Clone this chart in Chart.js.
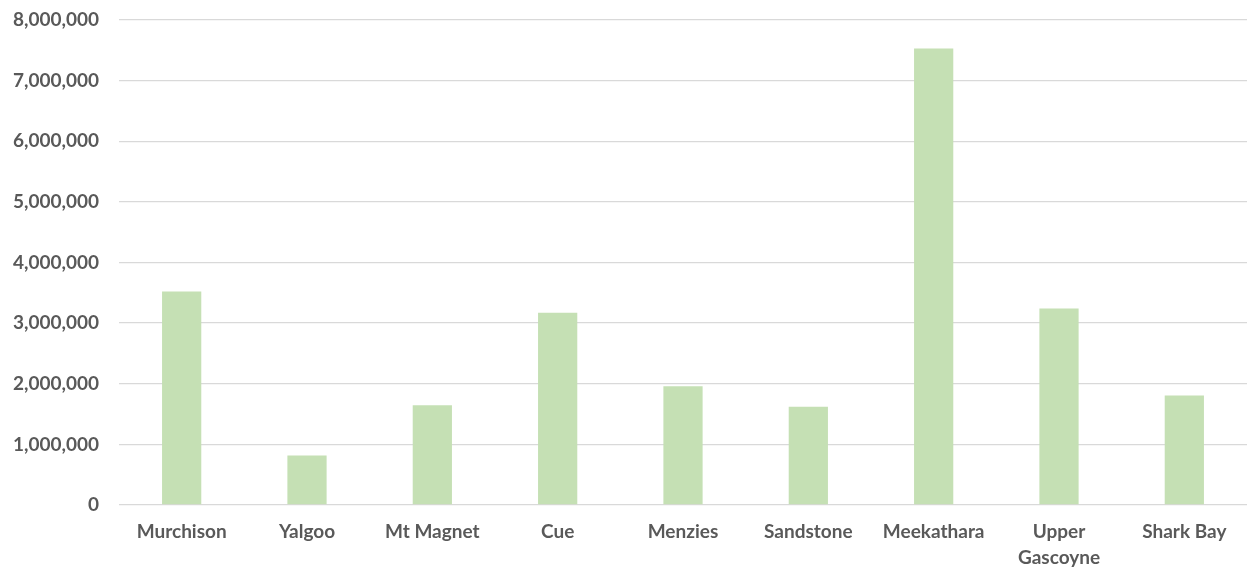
<!DOCTYPE html>
<html>
<head>
<meta charset="utf-8">
<script src="https://cdn.jsdelivr.net/npm/chart.js@4/dist/chart.umd.min.js"></script>
<style>
  html, body { margin: 0; padding: 0; background: #ffffff; }
  #wrap { width: 1258px; height: 569px; position: relative; }
</style>
</head>
<body>
<div id="wrap"><canvas id="c" width="1258" height="569"></canvas></div>
<script>
// Shire names along the category axis
const shires = ['Murchison', 'Yalgoo', 'Mt Magnet', 'Cue', 'Menzies', 'Sandstone', 'Meekathara', ['Upper', 'Gascoyne'], 'Shark Bay'];
// One value per shire
const totals = [3520000, 815000, 1645000, 3170000, 1960000, 1620000, 7530000, 3240000, 1805000];
// Value axis range and step
const yMin = 0;
const yMax = 8000000;
const yStep = 1000000;

const textColor = '#595959';
const gridColor = '#d9d9d9';
const family = 'Lato, "Open Sans", sans-serif';
const xFont = { family, size: 19, weight: 'bold', lineHeight: 1.37 };
const yFont = { family, size: 19, weight: 'bold', lineHeight: 1.0 };

new Chart(document.getElementById('c'), {
  type: 'bar',
  data: {
    labels: shires,
    datasets: [{
      data: totals,
      backgroundColor: '#c5e0b4',
      borderWidth: 0,
      barPercentage: 0.313,
      categoryPercentage: 1.0
    }]
  },
  options: {
    responsive: false,
    animation: false,
    devicePixelRatio: 1,
    layout: { padding: { top: 20, right: 11, bottom: 0, left: 0 } },
    plugins: { legend: { display: false }, tooltip: { enabled: false } },
    scales: {
      x: {
        grid: { display: false, drawTicks: false },
        border: { display: false },
        ticks: { color: textColor, font: xFont, padding: 14, maxRotation: 0, autoSkip: false },
        afterFit: (s) => { s.height = 64; }
      },
      y: {
        min: yMin,
        max: yMax,
        grid: { color: gridColor, lineWidth: 1.3, drawTicks: false },
        border: { display: false },
        ticks: {
          stepSize: yStep,
          color: textColor,
          font: yFont,
          padding: 20,
          callback: (v) => Number(v).toLocaleString('en-US')
        },
        afterFit: (s) => { s.width = 119; s.paddingTop = 0; }
      }
    }
  }
});
</script>
</body>
</html>
